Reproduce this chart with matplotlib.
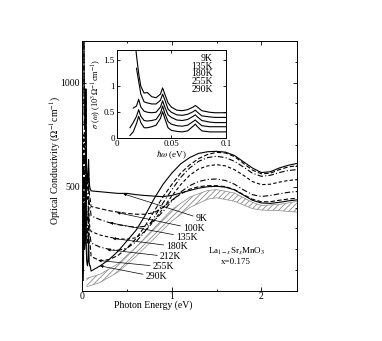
"""
Optical conductivity of La1-xSrxMnO3 (x=0.175) vs temperature, with low-energy inset.
"""

import numpy as np
import matplotlib
matplotlib.use("Agg")
import matplotlib.pyplot as plt
from matplotlib.ticker import MultipleLocator

plt.rcParams["font.family"] = ["Liberation Serif", "DejaVu Serif"]
plt.rcParams["mathtext.fontset"] = "stix"
plt.rcParams["hatch.linewidth"] = 0.6

# ---- data ----
temps_main = ["9K", "100K", "135K", "180K", "212K", "255K", "290K"]

# main panel, photon energy (eV) above the phonon region
energy = [0.1, 0.2, 0.3, 0.4, 0.5, 0.6, 0.7, 0.8, 0.9, 1.0, 1.1, 1.2,
          1.3, 1.4, 1.5, 1.6, 1.7, 1.8, 1.9, 2.0, 2.1, 2.2, 2.3, 2.4]

sigma_9K = [480, 476, 472, 468, 468, 462, 458, 455, 452, 458, 470, 482,
            493, 500, 502, 498, 485, 460, 435, 422, 420, 425, 432, 437]
sigma_100K = [405, 395, 385, 378, 372, 368, 368, 375, 400, 435, 465, 488,
              500, 505, 505, 500, 486, 462, 440, 428, 428, 435, 441, 445]
sigma_135K = [360, 342, 328, 318, 310, 305, 310, 335, 380, 430, 475, 505,
              525, 535, 537, 530, 512, 485, 462, 453, 458, 466, 473, 477]
sigma_180K = [285, 268, 258, 250, 248, 255, 285, 335, 395, 455, 510, 555,
              585, 600, 606, 600, 582, 555, 525, 510, 512, 522, 530, 534]
sigma_212K = [230, 210, 200, 195, 205, 235, 285, 350, 420, 485, 545, 590,
              622, 640, 646, 640, 622, 595, 565, 550, 555, 568, 578, 582]
sigma_255K = [165, 145, 150, 170, 205, 250, 310, 380, 450, 510, 565, 605,
              635, 655, 665, 662, 645, 612, 580, 562, 565, 582, 595, 601]
sigma_290K = [95, 120, 150, 190, 240, 290, 360, 440, 510, 565, 610, 640,
              660, 668, 670, 666, 650, 620, 590, 568, 572, 590, 603, 612]

# hatched band (upper and lower edge)
band_energy = [0.05, 0.2, 0.4, 0.6, 0.8, 1.0, 1.2, 1.4, 1.5, 1.7, 1.9, 2.0, 2.2, 2.4]
band_upper = [60, 80, 130, 210, 300, 390, 450, 482, 486, 470, 425, 410, 415, 430]
band_lower = [20, 40, 90, 165, 250, 335, 400, 440, 447, 430, 395, 388, 385, 378]

# inset, hbar*omega (eV), sigma in 10^3 ohm^-1 cm^-1
nan = np.nan
inset_energy = [0.012, 0.015, 0.018, 0.02, 0.022, 0.025, 0.028, 0.032, 0.036,
                0.04, 0.042, 0.044, 0.047, 0.05, 0.055, 0.06, 0.065, 0.07,
                0.072, 0.074, 0.078, 0.085, 0.09, 0.1]
inset_9K = [nan, 2.2, 1.6, 1.25, 1.0, 0.87, 0.88, 0.8, 0.78, 0.85, 0.97, 0.85,
            0.68, 0.6, 0.54, 0.53, 0.55, 0.6, 0.63, 0.6, 0.53, 0.5, 0.49, 0.49]
inset_135K = [nan, nan, 1.35, 1.1, 0.85, 0.7, 0.68, 0.66, 0.66, 0.73, 0.85, 0.74,
              0.56, 0.5, 0.45, 0.44, 0.46, 0.51, 0.54, 0.5, 0.43, 0.41, 0.4, 0.4]
inset_180K = [nan, 0.58, 0.62, 0.75, 0.6, 0.52, 0.5, 0.49, 0.5, 0.6, 0.72, 0.6,
              0.45, 0.4, 0.35, 0.34, 0.36, 0.42, 0.45, 0.41, 0.34, 0.31, 0.3, 0.3]
inset_255K = [0.2, 0.3, 0.42, 0.55, 0.42, 0.34, 0.33, 0.34, 0.36, 0.48, 0.62, 0.48,
              0.32, 0.27, 0.24, 0.23, 0.25, 0.32, 0.35, 0.31, 0.24, 0.22, 0.22, 0.22]
inset_290K = [0.05, 0.12, 0.28, 0.42, 0.3, 0.2, 0.2, 0.22, 0.25, 0.38, 0.51, 0.38,
              0.2, 0.15, 0.13, 0.12, 0.14, 0.23, 0.27, 0.22, 0.14, 0.12, 0.12, 0.12]
# low-energy parts of the two curves not shown in the inset (main units)
low_100K = [nan, nan, 1500, 1200, 950, 800, 800, 750, 730, 800, 920, 800,
            630, 560, 500, 490, 510, 560, 590, 550, 480, 450, 440, 440]
low_212K = [nan, 450, 520, 650, 520, 430, 420, 420, 430, 540, 670, 540,
            380, 330, 290, 280, 300, 370, 400, 360, 290, 260, 260, 260]

inset_labels = ["9K", "135K", "180K", "255K", "290K"]

# label positions (text) and pointer targets on the curves
label_pos = [(1.27, 346), (1.13, 298), (1.05, 258), (0.94, 212),
             (0.87, 163), (0.79, 115), (0.71, 67)]
label_target = [(0.46, 466), (0.39, 376), (0.31, 327), (0.34, 252),
                (0.28, 198), (0.18, 146), (0.2, 120)]


def main():
    fig = plt.figure(figsize=(3.82, 3.41), dpi=100)
    ax = fig.add_axes([0.215, 0.147, 0.563, 0.733])

    styles = ["-", (0, (4, 2)), (0, (5, 2, 1, 2)), (0, (3, 2)),
              (0, (5, 2, 1, 2)), (0, (4, 2)), "-"]
    main_series = [sigma_9K, sigma_100K, sigma_135K, sigma_180K,
                   sigma_212K, sigma_255K, sigma_290K]
    low_series = [np.array(inset_9K) * 1000, low_100K, np.array(inset_135K) * 1000,
                  np.array(inset_180K) * 1000, low_212K,
                  np.array(inset_255K) * 1000, np.array(inset_290K) * 1000]

    ie = np.array(inset_energy)
    keep = ie < 0.095

    # hatched band
    ax.fill_between(band_energy, band_lower, band_upper, facecolor="white",
                    edgecolor="#8a8a8a", hatch="//////", linewidth=0)
    ax.plot(band_energy, band_upper, color="#8a8a8a", lw=0.5)
    ax.plot(band_energy, band_lower, color="#8a8a8a", lw=0.5)

    for vals, low, ls in zip(main_series, low_series, styles):
        low = np.array(low, dtype=float)
        x = np.concatenate([ie[keep], energy])
        y = np.concatenate([low[keep], vals])
        ax.plot(x, y, color="black", lw=0.8, linestyle=ls)

    for name, pos, tgt in zip(temps_main, label_pos, label_target):
        ax.annotate(name, xy=tgt, xytext=pos, fontsize=7, va="center", ha="left",
                    arrowprops=dict(arrowstyle="-|>", lw=0.5, color="black",
                                    mutation_scale=4, shrinkA=0, shrinkB=0))

    ax.text(1.73, 178, r"La$_{1-x}$Sr$_x$MnO$_3$", fontsize=6.5, ha="center")
    ax.text(1.72, 128, "x=0.175", fontsize=6.5, ha="center")

    ax.set_xlim(0, 2.4)
    ax.set_ylim(0, 1200)
    ax.xaxis.set_major_locator(MultipleLocator(1))
    ax.xaxis.set_minor_locator(MultipleLocator(0.5))
    ax.set_yticks([500, 1000])
    ax.yaxis.set_minor_locator(MultipleLocator(100))
    ax.tick_params(which="both", direction="in", top=True, right=True,
                   labelsize=7, width=0.6, pad=1.5)
    ax.tick_params(axis="x", pad=0.5)
    ax.tick_params(which="major", length=3)
    ax.tick_params(which="minor", length=1.5)
    ax.set_xlabel("Photon Energy (eV)", fontsize=7)
    ax.xaxis.set_label_coords(0.33, -0.04)
    ax.set_ylabel(r"Optical Conductivity ($\Omega^{-1}$cm$^{-1}$)", fontsize=7)
    ax.yaxis.set_label_coords(-0.09, 0.52)
    for sp in ax.spines.values():
        sp.set_linewidth(0.7)

    # ---- inset ----
    axi = fig.add_axes([0.306, 0.595, 0.285, 0.258])
    for vals in [inset_9K, inset_135K, inset_180K, inset_255K, inset_290K]:
        axi.plot(inset_energy, vals, color="black", lw=0.8)
    axi.set_xlim(0, 0.1)
    axi.set_ylim(0, 1.7)
    axi.set_xticks([0, 0.05, 0.1])
    axi.set_xticklabels(["0", "0.05", "0.1"])
    axi.set_yticks([0, 0.5, 1, 1.5])
    axi.set_yticklabels(["0", "0.5", "1", "1.5"])
    axi.tick_params(direction="in", top=True, right=True, labelsize=6.5,
                    width=0.6, length=2.5, pad=1.5)
    axi.set_xlabel(r"$\hbar\omega$ (eV)", fontsize=6.5, labelpad=0)
    axi.set_ylabel(r"$\sigma$ ($\omega$) (10$^3\Omega^{-1}$cm$^{-1}$)", fontsize=6)
    axi.yaxis.set_label_coords(-0.125, 0.5)
    axi.text(0.088, 1.62, "\n".join(inset_labels), fontsize=7, ha="right",
             va="top", linespacing=0.8)
    for sp in axi.spines.values():
        sp.set_linewidth(0.7)

    fig.savefig("out.png", dpi=100)
    plt.close(fig)


if __name__ == "__main__":
    main()
